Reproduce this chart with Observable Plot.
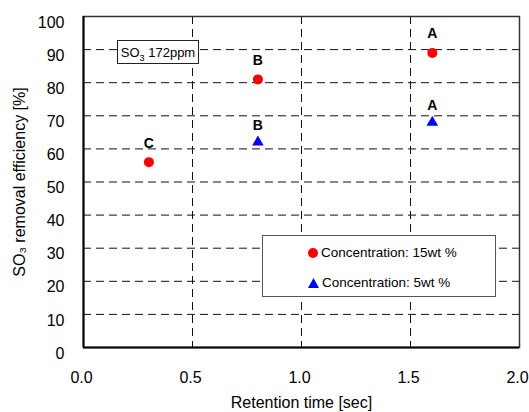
<!DOCTYPE html>
<html>
<head>
<meta charset="utf-8">
<script src="https://cdn.jsdelivr.net/npm/d3@7"></script>
<script src="https://cdn.jsdelivr.net/npm/@observablehq/plot@0.6"></script>
<style>
  html, body { margin: 0; padding: 0; background: #fff; }
  #wrap { position: relative; width: 529px; height: 412px; font-family: "Liberation Sans", Arial, sans-serif; }
  #note { position: absolute; left: 117px; top: 40px; width: 82px; height: 24px; border: 1px solid #222; background: #fff; font-size: 13px; line-height: 24px; text-align: center; box-sizing: border-box; }
  #legend { position: absolute; left: 262px; top: 235px; width: 234px; height: 62px; border: 1px solid #555; background: #fff; box-sizing: border-box; font-size: 13.5px; }
  .row { position: absolute; left: 45px; display: flex; align-items: center; }
  .row svg { margin-right: 3px; }
</style>
</head>
<body>
<div id="wrap"></div>
<script>
// Data
const seriesNames = ["Concentration: 15wt%", "Concentration: 5wt%"];
const time15 = [0.3, 0.8, 1.6];
const eff15 = [56, 81, 89];
const grp15 = ["C", "B", "A"];
const time5 = [0.8, 1.6];
const eff5 = [62, 68];
const grp5 = ["B", "A"];
const xTicks = [0, 0.5, 1.0, 1.5, 2.0];
const yTicks = [0, 10, 20, 30, 40, 50, 60, 70, 80, 90, 100];
const xLabel = "Retention time [sec]";
const yLabel = "SO\u2083 removal efficiency [%]";

const d15 = time15.map((t, i) => ({t, e: eff15[i], g: grp15[i]}));
const d5 = time5.map((t, i) => ({t, e: eff5[i], g: grp5[i]}));

const chart = Plot.plot({
  width: 529,
  height: 412,
  marginLeft: 83,
  marginRight: 10,
  marginTop: 16,
  marginBottom: 65,
  style: {fontFamily: "'Liberation Sans', Arial, sans-serif", background: "#fff", color: "#000"},
  x: {domain: [0, 2]},
  y: {domain: [0, 100]},
  marks: [
    Plot.gridY(yTicks.filter(d => d > 0 && d < 100), {stroke: "#111", strokeOpacity: 1, strokeDasharray: "8,5", strokeWidth: 1}),
    Plot.gridX(xTicks.filter(d => d > 0 && d < 2), {stroke: "#111", strokeOpacity: 1, strokeDasharray: "8,5", strokeWidth: 1}),
    Plot.frame({stroke: "#333", strokeWidth: 1.5}),
    Plot.ruleX([0], {stroke: "#000", strokeWidth: 2}),
    Plot.ruleY([0], {stroke: "#000", strokeWidth: 2}),
    Plot.axisY(yTicks, {tickSize: 0, tickPadding: 19, fontSize: 16, dy: 6, label: yLabel, labelAnchor: "center", labelOffset: 70, labelArrow: "none"}),
    Plot.axisX(xTicks, {tickSize: 0, tickPadding: 24, fontSize: 16, dx: -2, tickFormat: d3.format(".1f"), label: xLabel, labelAnchor: "center", labelOffset: 60, labelArrow: "none"}),
    Plot.dot(d15, {x: "t", y: "e", r: 5, fill: "#ff0000", symbol: "circle"}),
    Plot.dot(d5, {x: "t", y: "e", r: 4.3, fill: "#0000ff", symbol: "triangle"}),
    Plot.text(d15, {x: "t", y: "e", text: "g", dy: -19, fontSize: 14, fontWeight: "bold", fill: "#000"}),
    Plot.text(d5, {x: "t", y: "e", text: "g", dy: -17, fontSize: 14, fontWeight: "bold", fill: "#000"})
  ]
});

const wrap = document.getElementById("wrap");
wrap.appendChild(chart);

const note = document.createElement("div");
note.id = "note";
note.innerHTML = "SO<sub style='font-size:9px'>3</sub> 172ppm";
wrap.appendChild(note);

const legend = document.createElement("div");
legend.id = "legend";
const sym = [
  `<svg width="10" height="10"><circle cx="5" cy="5" r="5" fill="#ff0000"/></svg>`,
  `<svg width="11" height="10"><polygon points="5.5,0 11,10 0,10" fill="#0000ff"/></svg>`
];
seriesNames.forEach((name, i) => {
  const row = document.createElement("div");
  row.className = "row";
  row.style.top = (i === 0 ? 9 : 39) + "px";
  row.innerHTML = sym[i] + `<span>${name.replace("wt%", "wt %")}</span>`;
  legend.appendChild(row);
});
wrap.appendChild(legend);
</script>
</body>
</html>
